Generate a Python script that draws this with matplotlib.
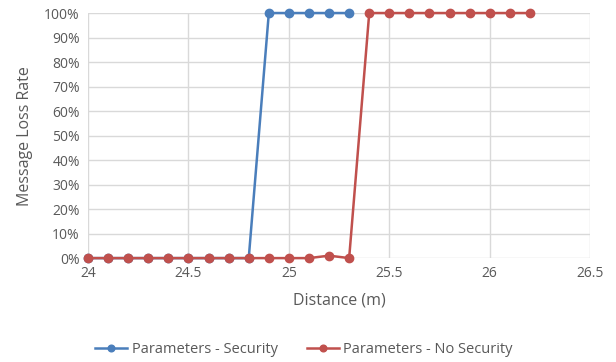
import matplotlib.pyplot as plt
from matplotlib.ticker import PercentFormatter

plt.rcParams['font.family'] = ['Open Sans', 'DejaVu Sans']

# Distances (m) and loss rates (%)
dist_sec = [24.0, 24.1, 24.2, 24.3, 24.4, 24.5, 24.6, 24.7, 24.8,
            24.9, 25.0, 25.1, 25.2, 25.3]
loss_sec = [0, 0, 0, 0, 0, 0, 0, 0, 0, 100, 100, 100, 100, 100]

dist_nosec = [24.0, 24.1, 24.2, 24.3, 24.4, 24.5, 24.6, 24.7, 24.8,
              24.9, 25.0, 25.1, 25.2, 25.3, 25.4, 25.5, 25.6, 25.7,
              25.8, 25.9, 26.0, 26.1, 26.2]
loss_nosec = [0, 0, 0, 0, 0, 0, 0, 0, 0, 0, 0, 0, 1, 0,
              100, 100, 100, 100, 100, 100, 100, 100, 100]

x_ticks = [24, 24.5, 25, 25.5, 26, 26.5]
y_ticks = [0, 10, 20, 30, 40, 50, 60, 70, 80, 90, 100]

text_col = '#595959'
grid_col = '#D9D9D9'

fig = plt.figure(figsize=(6.16, 3.62), dpi=100)
ax = fig.add_axes([0.143, 0.287, 0.815, 0.677])

ax.plot(dist_sec, loss_sec, color='#4A7EBB', marker='o', markersize=6,
        linewidth=1.8, label='Parameters - Security', clip_on=False, zorder=3)
ax.plot(dist_nosec, loss_nosec, color='#C0504D', marker='o', markersize=6,
        linewidth=1.8, label='Parameters - No Security', clip_on=False, zorder=4)

ax.set_xlim(24, 26.5)
ax.set_ylim(0, 100)
ax.set_xticks(x_ticks)
ax.set_xticklabels(['24', '24.5', '25', '25.5', '26', '26.5'])
ax.set_yticks(y_ticks)
ax.yaxis.set_major_formatter(PercentFormatter(decimals=0))

ax.grid(True, color=grid_col, linewidth=1)
ax.set_axisbelow(True)
for s in ax.spines.values():
    s.set_visible(False)
ax.tick_params(length=0, labelsize=10, colors=text_col, pad=6)

ax.set_xlabel('Distance (m)', fontsize=11.5, color=text_col, labelpad=8)
ax.set_ylabel('Message Loss Rate', fontsize=11.5, color=text_col, labelpad=8)

ax.legend(loc='upper center', bbox_to_anchor=(0.43, -0.29), ncol=2,
          frameon=False, fontsize=10.5, labelcolor=text_col,
          handlelength=2.2, handletextpad=0.3, columnspacing=2.0,
          markerscale=0.8)

plt.savefig('out.png', dpi=100)
